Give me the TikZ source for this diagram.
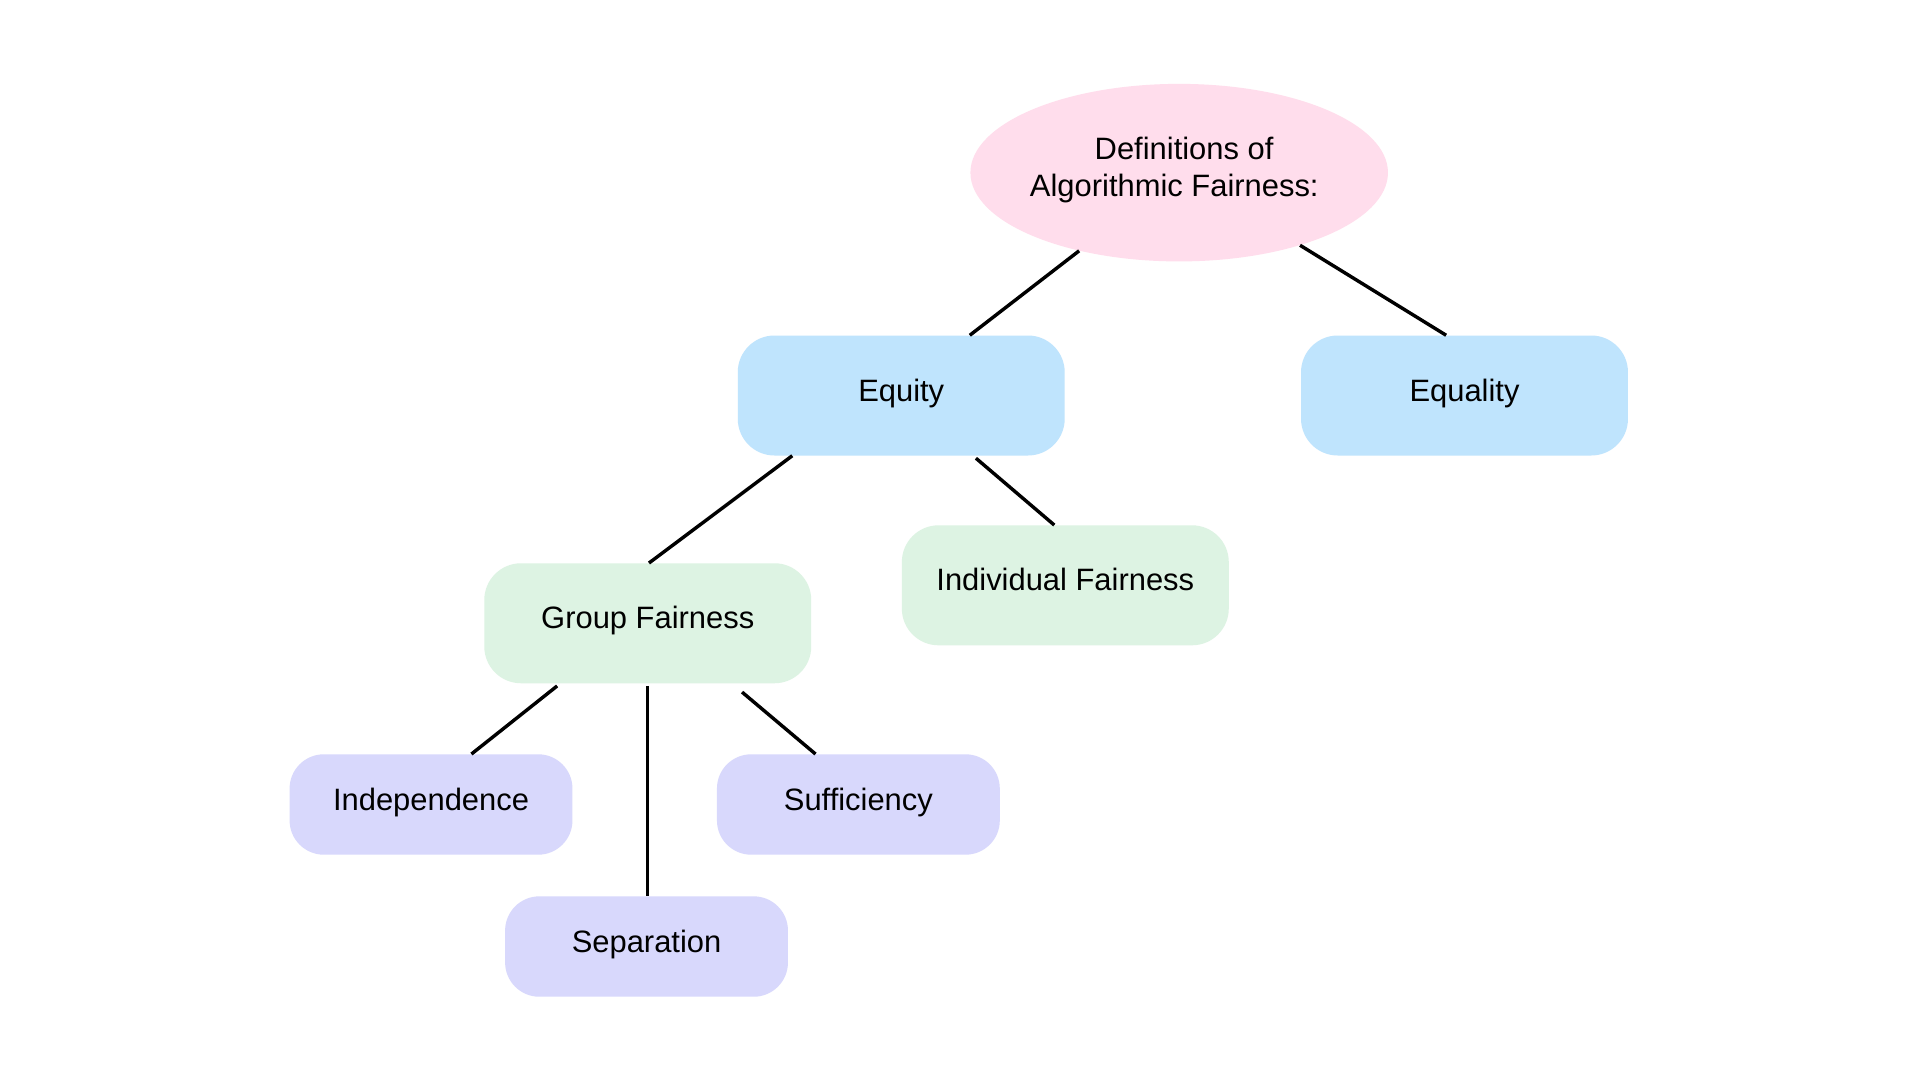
\documentclass[tikz,border=0pt]{standalone}
\usepackage{fontspec}
\setmainfont{Liberation Sans}
\usetikzlibrary{shapes.geometric}
\definecolor{pinkfill}{RGB}{255,221,236}
\definecolor{bluefill}{RGB}{191,228,253}
\definecolor{greenfill}{RGB}{221,243,227}
\definecolor{purplefill}{RGB}{216,216,252}
\tikzset{
  lbl/.style={font=\fontsize{25.25}{30}\selectfont, text=black, align=center, inner sep=0pt, text depth=9pt},
  rootnode/.style={lbl, ellipse, fill=pinkfill, minimum width=341pt, minimum height=145pt, inner xsep=-4pt},
  bigbox/.style={lbl, rectangle, rounded corners=30pt, minimum width=267pt, minimum height=98pt},
  smallbox/.style={lbl, rectangle, rounded corners=28pt, fill=purplefill, minimum width=231pt, minimum height=82pt},
  link/.style={draw=black, line width=2.8pt}
}
\begin{document}
\begin{tikzpicture}[x=1pt,y=-1pt]
\useasboundingbox (0,0) rectangle (1568,882);
\fill[white] (0,0) rectangle (1568,882);
\node[rootnode] (root) at (963,141) {\hspace*{8pt}Definitions of\\Algorithmic Fairness:\hspace*{8pt}};
\node[bigbox, fill=bluefill] (equity) at (736,323) {Equity};
\node[bigbox, fill=bluefill] (equality) at (1196,323) {Equality};
\node[bigbox, fill=greenfill] (group) at (529,509) {Group Fairness};
\node[bigbox, fill=greenfill] (indiv) at (870,478) {Individual Fairness};
\node[smallbox] (indep) at (352,657) {Independence};
\node[smallbox] (suff) at (701,657) {Sufficiency};
\node[smallbox] (sep) at (528,773) {Separation};
\draw[link] (root.218) -- ([xshift=56pt]equity.north);
\draw[link] (root.-31.4) -- ([xshift=-15pt]equality.north);
\draw[link] ([xshift=-89pt]equity.south) -- ([xshift=1pt]group.north);
\draw[link] ([xshift=61pt,yshift=-2pt]equity.south) -- ([xshift=-9pt]indiv.north);
\draw[link] ([xshift=-74pt,yshift=-2pt]group.south) -- ([xshift=33pt]indep.north);
\draw[link] ([yshift=-2pt]group.south) -- ([xshift=1pt]sep.north);
\draw[link] ([xshift=77pt,yshift=-7pt]group.south) -- ([xshift=-35pt]suff.north);
\end{tikzpicture}
\end{document}
